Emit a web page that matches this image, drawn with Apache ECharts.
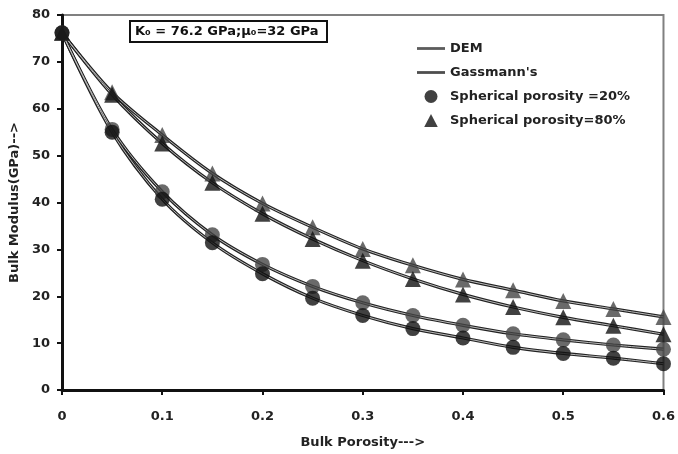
<!DOCTYPE html>
<html>
<head>
<meta charset="utf-8">
<script src="https://cdn.jsdelivr.net/npm/echarts@6/dist/echarts.min.js"></script>
<style>
  html, body { margin: 0; padding: 0; background: #fff; }
  #chart { width: 678px; height: 454px; }
</style>
</head>
<body>
<div id="chart"></div>
<script>
// bulk porosity (x)
var porosity = [0, 0.05, 0.1, 0.15, 0.2, 0.25, 0.3, 0.35, 0.4, 0.45, 0.5, 0.55, 0.6];
// bulk modulus (GPa)
var demSph20 = [76.2, 55.6, 42.3, 33.1, 26.8, 22.1, 18.6, 15.9, 13.8, 12.0, 10.7, 9.6, 8.7];
var gasSph20 = [76.2, 55.0, 40.7, 31.4, 24.8, 19.6, 15.9, 13.1, 11.1, 9.1, 7.8, 6.8, 5.6];
var demSph80 = [76.2, 63.5, 54.4, 46.2, 39.8, 34.7, 30.1, 26.6, 23.6, 21.3, 19.0, 17.3, 15.6];
var gasSph80 = [76.2, 63.0, 52.6, 44.2, 37.6, 32.2, 27.6, 23.7, 20.4, 17.7, 15.5, 13.7, 11.9];
var legendNames = ['DEM', "Gassmann's", 'Spherical porosity =20%', 'Spherical porosity=80%'];

var myChart = echarts.init(document.getElementById('chart'));
var font = 'DejaVu Sans';

var pairs = function (ys) {
    var res = [];
    for (var i = 0; i < porosity.length; i++) {
        res.push([porosity[i], ys[i]]);
    }
    return res;
};

// each curve = dark outline + light core (hollow line look)
var curve = function (ys) {
    return [
        {
            type: 'line', data: pairs(ys), smooth: 0.3, symbol: 'none', z: 2,
            lineStyle: { color: '#222', width: 3.2 }, silent: true
        },
        {
            type: 'line', data: pairs(ys), smooth: 0.3, symbol: 'none', z: 3,
            lineStyle: { color: '#bbb', width: 1 }, silent: true
        }
    ];
};

var marks = function (name, ys, symbol, size, color) {
    return {
        name: name, type: 'scatter', data: pairs(ys), symbol: symbol, symbolSize: size, z: 4,
        itemStyle: { color: color }
    };
};

var series = []
    .concat(curve(demSph20), curve(gasSph20), curve(demSph80), curve(gasSph80))
    .concat([
        marks('DEM', demSph20, 'circle', 15, '#454545'),
        marks("Gassmann's", gasSph20, 'circle', 15, '#111'),
        marks('DEM', demSph80, 'triangle', 16, '#454545'),
        marks("Gassmann's", gasSph80, 'triangle', 16, '#111'),
        // legend-only entries
        { name: legendNames[2], type: 'scatter', data: [], symbol: 'circle', itemStyle: { color: '#111' } },
        { name: legendNames[3], type: 'scatter', data: [], symbol: 'triangle', itemStyle: { color: '#111' } }
    ]);

var option = {
    animation: false,
    title: {
        text: 'K₀ = 76.2 GPa;μ₀=32 GPa',
        left: 130, top: 21,
        padding: [4, 9, 4, 5],
        borderColor: '#111', borderWidth: 2,
        textStyle: { fontFamily: font, fontSize: 13, fontWeight: 'bold', color: '#111' }
    },
    legend: {
        orient: 'vertical',
        left: 412, top: 37,
        itemWidth: 28, itemHeight: 13, itemGap: 11,
        selectedMode: false,
        textStyle: { fontFamily: font, fontSize: 13, fontWeight: 'bold', color: '#222' },
        data: [
            { name: legendNames[0], icon: 'path://M0,0L30,0L30,3L0,3Z', itemStyle: { color: '#333' } },
            { name: legendNames[1], icon: 'path://M0,0L30,0L30,3L0,3Z', itemStyle: { color: '#222' } },
            { name: legendNames[2], icon: 'circle', itemStyle: { color: '#111' } },
            { name: legendNames[3], icon: 'path://M7,0.5L13,12L1,12Z', itemStyle: { color: '#111' } }
        ]
    },
    grid: {
        left: 62, right: 14, top: 15, bottom: 63,
        show: true, borderColor: '#808080', borderWidth: 2
    },
    xAxis: {
        type: 'value', min: 0, max: 0.6, interval: 0.1,
        name: 'Bulk Porosity--->', nameLocation: 'middle', nameGap: 46,
        nameTextStyle: { fontFamily: font, fontSize: 13, fontWeight: 'bold', color: '#222' },
        axisLine: { lineStyle: { color: '#111', width: 3 } },
        axisTick: { show: true, length: 5, lineStyle: { color: '#111', width: 2 } },
        axisLabel: { fontFamily: font, fontSize: 13, fontWeight: 'bold', color: '#222', margin: 20 },
        splitLine: { show: false }
    },
    yAxis: {
        type: 'value', min: 0, max: 80, interval: 10,
        name: 'Bulk Modulus(GPa)-->', nameLocation: 'middle', nameGap: 38,
        nameTextStyle: { fontFamily: font, fontSize: 13, fontWeight: 'bold', color: '#222' },
        axisLine: { lineStyle: { color: '#111', width: 3 } },
        axisTick: { show: true, length: 5, lineStyle: { color: '#111', width: 2 } },
        axisLabel: { fontFamily: font, fontSize: 13, fontWeight: 'bold', color: '#222', margin: 12 },
        splitLine: { show: false }
    },
    series: series
};
myChart.setOption(option);
</script>
</body>
</html>
